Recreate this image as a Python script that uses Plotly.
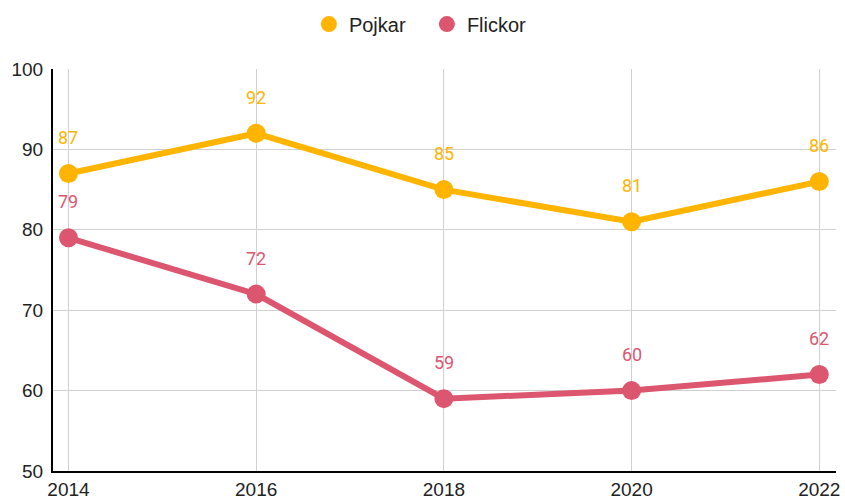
import plotly.graph_objects as go

years = [2014, 2016, 2018, 2020, 2022]
pojkar = [87, 92, 85, 81, 86]
flickor = [79, 72, 59, 60, 62]
series_names = ["Pojkar", "Flickor"]
colors = ["#FFB400", "#DC5670"]

fig = go.Figure()
for name, vals, col in zip(series_names, [pojkar, flickor], colors):
    fig.add_trace(go.Scatter(
        x=years, y=vals, name=name, mode="lines+markers",
        line=dict(color=col, width=6),
        marker=dict(color=col, size=19),
        showlegend=False,
    ))
    # legend-only entry (circle symbol, no line)
    fig.add_trace(go.Scatter(
        x=[None], y=[None], name=name, mode="markers",
        marker=dict(color=col, size=20), showlegend=True,
    ))
    for xv, yv in zip(years, vals):
        fig.add_annotation(x=xv, y=yv, text=str(yv), showarrow=False,
                           yshift=36, font=dict(family="Roboto", size=18, color=col))

fig.update_layout(
    width=845, height=502,
    margin=dict(l=53, r=9, t=69, b=31, autoexpand=False),
    plot_bgcolor="white", paper_bgcolor="white",
    font=dict(family="Liberation Sans, Arial", size=19, color="#222"),
    legend=dict(orientation="h", x=0.4775, xanchor="center", y=0.952, yanchor="middle",
                yref="container", font=dict(family="Liberation Sans, Arial", size=20, color="#222"),
                itemsizing="trace", itemwidth=30, entrywidth=73, entrywidthmode="pixels"),
    showlegend=True,
)
fig.update_xaxes(range=[2013.835, 2022.178], tickvals=years, ticktext=[str(y) for y in years],
                 showgrid=True, gridcolor="#d0d0d0", gridwidth=1, automargin=False,
                 showline=True, linecolor="black", linewidth=2, ticks="", zeroline=False,
                 tickfont=dict(family="Liberation Sans, Arial", size=19, color="#222"))
fig.update_yaxes(range=[50, 100], dtick=10, showgrid=True, gridcolor="#d0d0d0", gridwidth=1,
                 showline=True, linecolor="black", linewidth=2, ticks="", zeroline=False,
                 automargin=False, ticklabelstandoff=4,
                 tickfont=dict(family="Liberation Sans, Arial", size=19, color="#222"))

fig.write_html("out.html", config={"displayModeBar": False},
               post_script="document.body.style.margin='0';document.body.style.overflow='hidden';")
